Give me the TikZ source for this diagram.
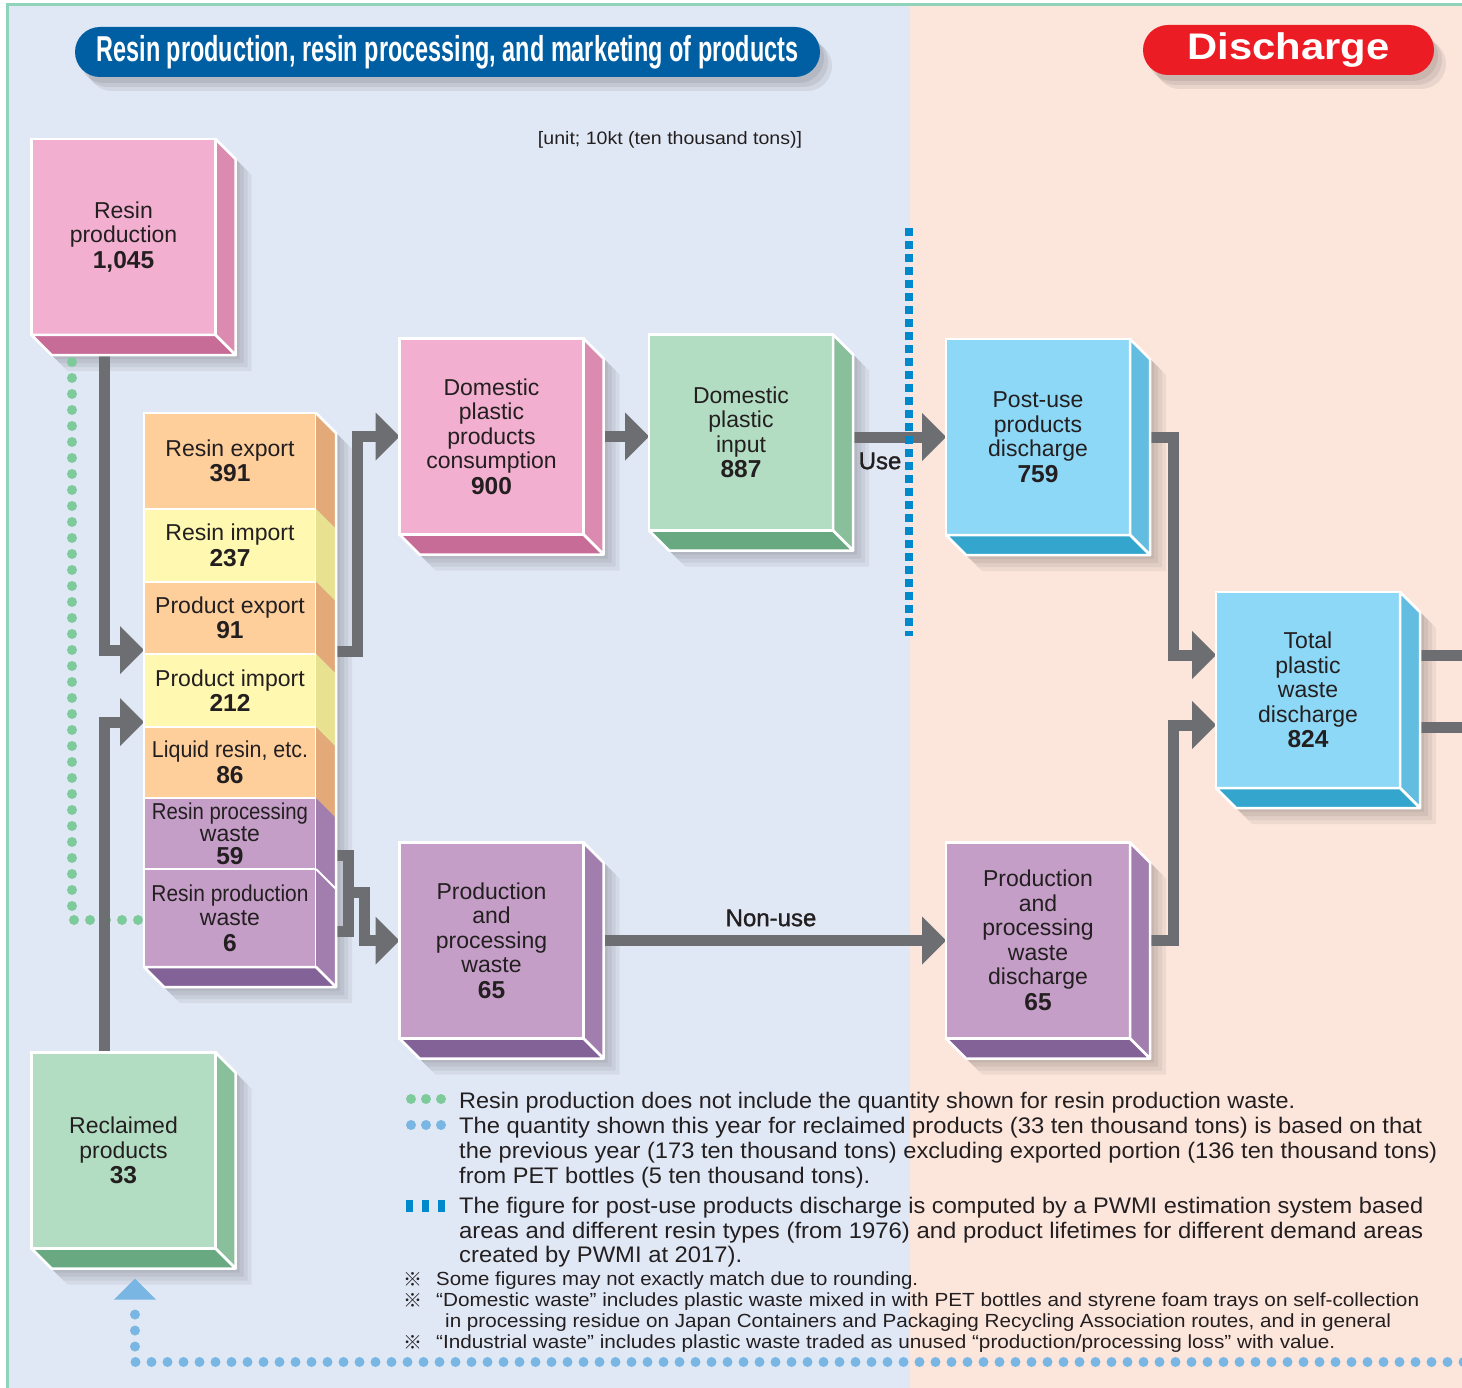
\documentclass[tikz,border=0pt]{standalone}
\usepackage{graphicx}
\usepackage{fontspec}
\setmainfont{Liberation Sans}
\newfontfamily\refmark{Noto Sans CJK JP}
\newfontfamily\semib[FakeBold=1.2]{Liberation Sans}
\usetikzlibrary{arrows.meta,calc}
\pgfdeclarelayer{bg}\pgfdeclarelayer{shad}\pgfdeclarelayer{conn}
\pgfsetlayers{bg,shad,conn,main}
\definecolor{bgleft}{HTML}{E1E8F5}
\definecolor{bgright}{HTML}{FCE6DC}
\definecolor{bordergreen}{HTML}{8FD3BB}
\definecolor{hdrblue}{HTML}{005FA3}
\definecolor{dred}{HTML}{EC1C24}
\definecolor{arrowgrey}{HTML}{6D6E71}
\definecolor{txt}{HTML}{231F20}
\definecolor{pinkF}{HTML}{F3AFCF}\definecolor{pinkS}{HTML}{DB8BB0}\definecolor{pinkB}{HTML}{C76C97}
\definecolor{greenF}{HTML}{B3DDC3}\definecolor{greenS}{HTML}{8ABF9B}\definecolor{greenB}{HTML}{68A981}
\definecolor{blueF}{HTML}{8DD8F6}\definecolor{blueS}{HTML}{62BDE0}\definecolor{blueB}{HTML}{34A6CD}
\definecolor{purpF}{HTML}{C59EC8}\definecolor{purpS}{HTML}{A27EAF}\definecolor{purpB}{HTML}{836397}
\definecolor{orF}{HTML}{FECE9B}\definecolor{orS}{HTML}{E3A979}
\definecolor{yeF}{HTML}{FFF8B1}\definecolor{yeS}{HTML}{E8E18F}
\definecolor{dotgreen}{HTML}{7DCB9B}
\definecolor{dotblue}{HTML}{7AB6E3}
\definecolor{useblue}{HTML}{0088CC}
\newcommand\fitw[2]{\resizebox{#1}{\height}{#2}}
\newcommand\lblfont{\fontsize{23}{24.5}\selectfont}
\newcommand\numsize{\fontsize{24.5}{26}\selectfont\bfseries}
\newcommand\shadowof[2]{%
  \begin{pgfonlayer}{shad}
  \foreach \s in {4,8,12,16}{%
    \fill[black,opacity=0.055] ($(#1.north west)+(\s,\s)$) -- ($(#1.north east)+(\s,\s)$)
      -- ($(#1.north east)+(20+\s,20+\s)$) -- ($(#2.south east)+(20+\s,20+\s)$)
      -- ($(#2.south west)+(20+\s,20+\s)$) -- ($(#2.south west)+(\s,\s)$) -- cycle;}
  \end{pgfonlayer}}
\newcommand\cube[6]{% name, x, y, front, side, bottom ; text taken from \cubetext
  \node[box, fill=#4] (#1) at (#2,#3) {\cubetext};
  \filldraw[fill=#5, draw=white, line width=2.5pt, line join=round] (#1.north east) -- ++(20,20) -- ($(#1.south east)+(20,20)$) -- (#1.south east) -- cycle;
  \filldraw[fill=#6, draw=white, line width=2.5pt, line join=round] (#1.south west) -- ++(20,20) -- ($(#1.south east)+(20,20)$) -- (#1.south east) -- cycle;
  \shadowof{#1}{#1}}
\tikzset{
  box/.style={draw=white, line width=2.5pt, inner sep=0pt, outer sep=0pt, align=center,
    text=txt, font=\lblfont, minimum width=184pt, minimum height=196pt},
  seg/.style={box, minimum width=172pt},
  flow/.style={draw=arrowgrey, line width=11pt, line join=miter,
    -{Triangle[width=48pt,length=24pt,line width=0pt]}},
  flowplain/.style={draw=arrowgrey, line width=11pt, line join=miter},
  gdots/.style={draw=dotgreen, line width=10pt, line cap=round, dash pattern=on 0pt off 16pt},
  bdots/.style={draw=dotblue, line width=10pt, line cap=round, dash pattern=on 0pt off 16pt},
  usedash/.style={draw=useblue, line width=8pt, dash pattern=on 8pt off 5pt},
  note/.style={anchor=base west, inner sep=0pt, text=txt, font=\fontsize{22.5}{24}\selectfont},
  snote/.style={anchor=base west, inner sep=0pt, text=txt, font=\fontsize{19}{20}\selectfont},
  pill/.style={rounded corners=25pt, inner sep=0pt, outer sep=0pt, text=white, minimum height=50pt},
  flowlbl/.style={inner sep=0pt, text=txt, font=\semib\fontsize{24}{24}\selectfont},
}
\begin{document}
\begin{tikzpicture}[x=1pt,y=-1pt]
\useasboundingbox (0,0) rectangle (1462,1388);
\begin{pgfonlayer}{bg}
  \fill[white] (0,0) rectangle (1462,1388);
  \fill[bgleft] (7,5) rectangle (910,1388);
  \fill[bgright] (910,5) rectangle (1462,1388);
  \draw[bordergreen, line width=3pt] (7,1388) -- (7,5) -- (1462,5);
\end{pgfonlayer}

% header pills
\node[pill, fill=hdrblue, minimum width=745pt] (hdr) at (447.5,52)
  {\raisebox{-3pt}{\fitw{702pt}{\fontsize{36}{36}\selectfont\bfseries Resin production, resin processing, and marketing of products}}};
\node[pill, fill=dred, minimum width=291pt] (dis) at (1288.5,50)
  {\raisebox{-2pt}{\fitw{202pt}{\fontsize{37}{37}\selectfont\bfseries Discharge}}};
\begin{pgfonlayer}{shad}
  \foreach \s in {4,8,12}{%
    \fill[black,opacity=0.07,rounded corners=25pt] ($(hdr.north west)+(\s,\s+2)$) rectangle ($(hdr.south east)+(\s,\s+2)$);
    \fill[black,opacity=0.07,rounded corners=25pt] ($(dis.north west)+(\s,\s+2)$) rectangle ($(dis.south east)+(\s,\s+2)$);}
\end{pgfonlayer}
\node[inner sep=0pt, text=txt, font=\fontsize{18}{18}\selectfont] (unit) at (670,140)
  {\fitw{264pt}{[unit; 10kt (ten thousand tons)]}};

% cubes
\def\cubetext{Resin\\production\\[1pt]{\numsize 1,045}}
\cube{rp}{123.5}{237}{pinkF}{pinkS}{pinkB}
\def\cubetext{Domestic\\plastic\\products\\consumption\\[1pt]{\numsize 900}}
\cube{cons}{491.5}{436.5}{pinkF}{pinkS}{pinkB}
\def\cubetext{Domestic\\plastic\\input\\[1pt]{\numsize 887}}
\cube{inp}{741}{432.5}{greenF}{greenS}{greenB}
\def\cubetext{Post-use\\products\\discharge\\[1pt]{\numsize 759}}
\cube{post}{1038}{437}{blueF}{blueS}{blueB}
\def\cubetext{Total\\plastic\\waste\\discharge\\[1pt]{\numsize 824}}
\cube{total}{1308}{690}{blueF}{blueS}{blueB}
\def\cubetext{Production\\and\\processing\\waste\\[1pt]{\numsize 65}}
\cube{pw}{491.5}{940.5}{purpF}{purpS}{purpB}
\def\cubetext{Production\\and\\processing\\waste\\discharge\\[1pt]{\numsize 65}}
\cube{pd}{1038}{940.5}{purpF}{purpS}{purpB}
\def\cubetext{Reclaimed\\products\\[1pt]{\numsize 33}}
\cube{rec}{123.5}{1150.5}{greenF}{greenS}{greenB}

% stack
\node[seg, fill=orF, minimum height=96pt] (s1) at (230,461) {Resin export\\[1pt]{\numsize 391}};
\node[seg, fill=yeF, minimum height=73pt] (s2) at (230,545.5) {Resin import\\[1pt]{\numsize 237}};
\node[seg, fill=orF, minimum height=72pt] (s3) at (230,618) {Product export\\[1pt]{\numsize 91}};
\node[seg, fill=yeF, minimum height=73pt] (s4) at (230,690.5) {Product import\\[1pt]{\numsize 212}};
\node[seg, fill=orF, minimum height=71pt] (s5) at (230,762.5) {\fitw{156pt}{Liquid resin, etc.}\\[1pt]{\numsize 86}};
\node[seg, fill=purpF, minimum height=71pt, font=\fontsize{23}{22.5}\selectfont] (s6) at (230,833.5) {\fitw{156pt}{Resin processing}\\waste\\{\numsize 59}};
\node[seg, fill=purpF, minimum height=98pt] (s7) at (230,918) {\fitw{157pt}{Resin production}\\waste\\[1pt]{\numsize 6}};
\foreach \n/\c in {s1/orS,s2/yeS,s3/orS,s4/yeS,s5/orS,s6/purpS,s7/purpS}{%
  \fill[\c] (\n.north east) -- ++(20,20) -- ($(\n.south east)+(20,20)$) -- (\n.south east) -- cycle;}
\filldraw[fill=purpB, draw=white, line width=2.5pt, line join=round] (s7.south west) -- ++(20,20) -- ($(s7.south east)+(20,20)$) -- (s7.south east) -- cycle;
\draw[white, line width=2.5pt, line join=round] (s1.north east) -- ++(20,20) -- ($(s7.south east)+(20,20)$);
\draw[white, line width=2pt] (s7.north east) -- ++(20,20);
\shadowof{s1}{s7}

% labels on flows
\node[flowlbl] (use) at (880,461) {Use};
\node[flowlbl] (nonuse) at (771,918) {Non-use};

% use / discharge boundary
\coordinate (uTop) at (909,228);
\coordinate (uBot) at (909,636);
\draw[usedash] (uTop) -- (uBot);

% connectors
\begin{pgfonlayer}{conn}
  \draw[gdots] ($(rp.south)+(-51.5,27)$) |- ($(s7.west)+(-4,2)$);
  \coordinate (bdEnd) at (1475,1362);
  \draw[bdots] ($(rec.south)+(11.5,66)$) |- (bdEnd);
  \fill[dotblue] ($(rec.south)+(-9.5,51)$) -- ++(42,0) -- ++(-21,-21) -- cycle;

  \draw[flow] ([xshift=-19.5pt]rp.south) |- ([yshift=4pt]s3.south west);
  \draw[flow] ([xshift=-19.5pt]rec.north) |- ([yshift=5pt]s4.south west);
  \draw[flow] ([xshift=15pt,yshift=3pt]s3.south east) -- ++(26,0) |- (cons.west);
  \draw[flowplain] ([xshift=15pt,yshift=14pt]s6.south east) -- ++(17,0) -- ++(0,76) -- ++(-17,0);
  \draw[flow] ($(s6.south east)+(32,23)$) -- ++(16,0) |- (pw.west);
  \draw[flow] ([xshift=15pt]cons.east) -- (cons.east -| inp.west);
  \draw[flow] (post.west -| inp.east) -- (post.west);
  \draw[flow] ([xshift=15pt]post.east) -- ++(28,0) |- ([yshift=35pt]total.west);
  \draw[flow] ([xshift=15pt]pd.east) -- ++(28,0) |- ([yshift=-35pt]total.west);
  \draw[flow] ([xshift=15pt]pw.east) -- (pd.west);
  \coordinate (exitA) at (1475,655);
  \coordinate (exitB) at (1475,727);
  \draw[flowplain] ([xshift=15pt,yshift=35pt]total.east) -- (exitA);
  \draw[flowplain] ([xshift=15pt,yshift=-37pt]total.east) -- (exitB);
\end{pgfonlayer}

% legend notes
\foreach \x in {411,426,441} \fill[dotgreen] (\x,1099) circle (5pt);
\foreach \x in {411,426,441} \fill[dotblue] (\x,1125) circle (5pt);
\foreach \x in {406,422,438} \fill[useblue] (\x,1200) rectangle ++(7,12);
\node[note] (n1) at (459,1108) {\fitw{836pt}{Resin production does not include the quantity shown for resin production waste.}};
\node[note] (n2) at (459,1133) {\fitw{963pt}{The quantity shown this year for reclaimed products (33 ten thousand tons) is based on that}};
\node[note] (n3) at (459,1158) {\fitw{978pt}{the previous year (173 ten thousand tons) excluding exported portion (136 ten thousand tons)}};
\node[note] (n4) at (459,1183) {\fitw{411pt}{from PET bottles (5 ten thousand tons).}};
\node[note] (n5) at (459,1213) {\fitw{964pt}{The figure for post-use products discharge is computed by a PWMI estimation system based}};
\node[note] (n6) at (459,1238) {\fitw{964pt}{areas and different resin types (from 1976) and product lifetimes for different demand areas}};
\node[note] (n7) at (459,1262) {\fitw{283pt}{created by PWMI at 2017).}};
\foreach \y in {1286,1307,1349} \node[snote] at (403,\y) {\refmark\fontsize{19}{19}\selectfont ※};
\node[snote] (m1) at (436,1285) {\fitw{482pt}{Some figures may not exactly match due to rounding.}};
\node[snote] (m2) at (436,1306) {\fitw{983pt}{“Domestic waste” includes plastic waste mixed in with PET bottles and styrene foam trays on self-collection}};
\node[snote] (m3) at (445,1327) {\fitw{946pt}{in processing residue on Japan Containers and Packaging Recycling Association routes, and in general}};
\node[snote] (m4) at (436,1348) {\fitw{899pt}{“Industrial waste” includes plastic waste traded as unused “production/processing loss” with value.}};
\end{tikzpicture}
\end{document}
